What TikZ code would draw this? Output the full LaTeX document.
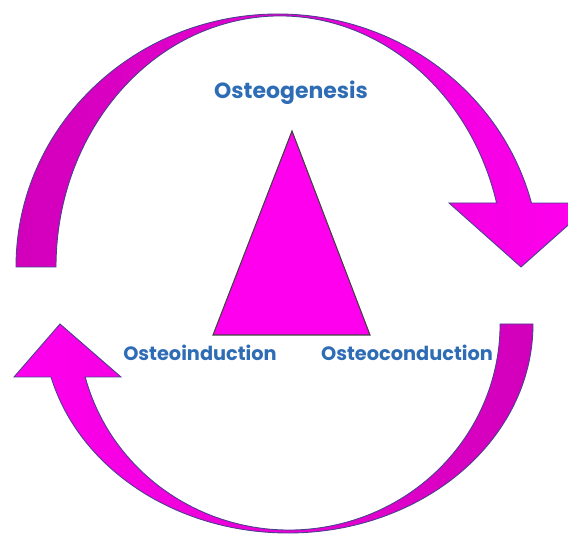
\documentclass[tikz,border=0pt]{standalone}
\usepackage{fontspec}
\setmainfont{Poppins}
\usepackage{tikz}
\definecolor{arrowpink}{HTML}{FF00EE}
\definecolor{arrowdeep}{HTML}{D200BA}
\definecolor{edgeblue}{HTML}{4B3F8F}
\definecolor{labelblue}{HTML}{2E6DB5}

\begin{document}
\begin{tikzpicture}[x=0.02cm, y=0.02cm,
    every node/.style={font=\bfseries\fontsize{11}{13}\selectfont, text=labelblue},
    bendarrow/.style={draw=edgeblue, line width=0.5pt, line join=miter}]
  \useasboundingbox (0,0) rectangle (568,534);

  % Upper curved arrow
  \path[bendarrow, left color=arrowdeep, right color=arrowpink]
    (16,267) arc[start angle=180, end angle=14.65, x radius=262, y radius=253]
    -- (593,331) -- (521,267) -- (449,331) -- (496.6,331)
    arc[start angle=14.77, end angle=180, x radius=224, y radius=251] -- cycle;

  % Lower curved arrow
  \path[bendarrow, left color=arrowpink, right color=arrowdeep]
    (533,210) arc[start angle=0, end angle=-165.31, x radius=245, y radius=209]
    -- (14,157) -- (60,210) -- (121,157) -- (85.2,157)
    arc[start angle=-165.09, end angle=0, x radius=211, y radius=206] -- cycle;

  % Centre triangle
  \coordinate (apex) at (292,403);
  \coordinate (baseL) at (213,199);
  \coordinate (baseR) at (370,199);
  \draw[draw=black!75, line width=0.6pt, fill=arrowpink] (apex) -- (baseR) -- (baseL) -- cycle;

  % Labels
  \node[font=\bfseries\fontsize{12.5}{14}\selectfont] (genesis) at (291,441) {Osteogenesis};
  \node (induction) at (200,181) {Osteoinduction};
  \node (conduction) at (407,181) {Osteoconduction};
\end{tikzpicture}
\end{document}
